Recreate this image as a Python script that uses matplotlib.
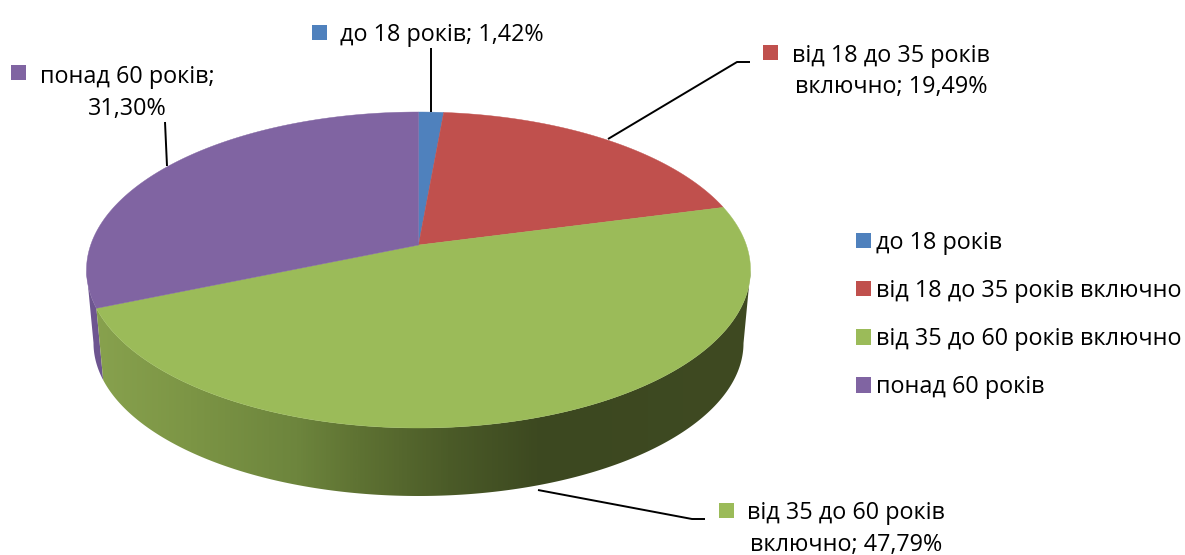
import numpy as np
import matplotlib
matplotlib.use('Agg')
import matplotlib.pyplot as plt
from matplotlib.patches import Patch, Polygon, Rectangle
from matplotlib.colors import LinearSegmentedColormap

categories = ['до 18 років', 'від 18 до 35 років включно',
              'від 35 до 60 років включно', 'понад 60 років']
shares = [1.42, 19.49, 47.79, 31.30]
colors = ['#4f81bd', '#c0504d', '#9bbb59', '#8064a2']

plt.rcParams['font.family'] = ['Open Sans', 'DejaVu Sans']
FS = 16.8

fig = plt.figure(figsize=(11.85, 5.55), dpi=100)
ax = fig.add_axes([0, 0, 1, 1])
ax.set_xlim(0, 1185)
ax.set_ylim(555, 0)
ax.axis('off')

# the tilted disc: circle seen in perspective, centre of the circle is above the centre of the ellipse
A = 0.158


def rim(f, cx, cy, rx, ry):
    t = 2 * np.pi * np.asarray(f)
    u, v = np.sin(t), np.cos(t)
    d = 1 + A * v
    x = cx + rx * u * np.sqrt(1 - A**2) / d
    y = cy - ry * (v + A) / d
    return np.column_stack([x, y])


def top(f):
    return rim(f, 418.5, 270, 332, 158)


def bottom(f):
    return rim(f, 418.5, 343, 325, 153)


edges = np.concatenate([[0], np.cumsum(shares)]) / np.sum(shares)

# side walls, only the green and the purple ones can be seen
side_map = LinearSegmentedColormap.from_list('side', [
    (0.0, '#88a24e'), (0.15, '#7c9545'), (0.31, '#6d853d'), (0.40, '#5f7333'),
    (0.54, '#4b5b28'), (0.68, '#3c4820'), (1.0, '#3f4a22')])
f = np.linspace(edges[2], edges[3], 800)
t, b = top(f), bottom(f)
i_t, i_b = t[:, 0].argmax(), b[:, 0].argmax()
wall = Polygon(np.vstack([t[i_t:], b[i_b:][::-1]]), closed=True, facecolor='none', edgecolor='none')
ax.add_patch(wall)
im = ax.imshow(np.linspace(0, 1, 650)[None, :], cmap=side_map, vmin=0, vmax=1, aspect='auto',
               extent=[90, 755, 555, 0], zorder=2, interpolation='bilinear')
im.set_clip_path(wall)
ax.set_xlim(0, 1185)
ax.set_ylim(555, 0)

f = np.linspace(edges[3], 0.78, 60)
t, b = top(f), bottom(f)
i_t, i_b = t[:, 0].argmin(), b[:, 0].argmin()
ax.add_patch(Polygon(np.vstack([t[:i_t + 1], b[:i_b + 1][::-1]]), closed=True,
                     facecolor='#6d5590', edgecolor='none', zorder=1))

# top face
apex = rim([0.25], 418.5, 270, 0, 158)[0]
for i, c in enumerate(colors):
    f = np.linspace(edges[i], edges[i + 1], 200)
    pts = np.vstack([apex, top(f)])
    ax.add_patch(Polygon(pts, closed=True, facecolor=c, edgecolor=c, linewidth=0.3, zorder=3))

# leader lines
leaders = [([431, 431], [48, 112]),
           ([608, 737, 750], [139, 62, 62]),
           ([538, 692, 705], [490, 519, 519]),
           ([165, 167], [122, 166])]
for lx, ly in leaders:
    ax.plot(lx, ly, color='black', lw=1.4, zorder=4, solid_capstyle='butt')


def pct(v):
    return ('%.2f' % v).replace('.', ',') + '%'


def square(x, y, c):
    ax.add_patch(Rectangle((x, y), 15, 15, facecolor=c, edgecolor='none', zorder=5))


def label(x, y, s, ha='left'):
    ax.text(x, y, s, fontsize=FS, ha=ha, va='center', color='black', zorder=5)


square(312, 25, colors[0])
label(340, 35, categories[0] + '; ' + pct(shares[0]))
square(763, 45, colors[1])
label(792, 56, 'від 18 до 35 років')
label(891, 87, 'включно; ' + pct(shares[1]), ha='center')
square(719, 503, colors[2])
label(747, 513, 'від 35 до 60 років')
label(846, 545, 'включно; ' + pct(shares[2]), ha='center')
square(11, 65, colors[3])
label(40, 77, categories[3] + ';')
label(127, 109, pct(shares[3]), ha='center')

handles = [Patch(facecolor=c, edgecolor='none') for c in colors]
ax.legend(handles, categories, loc='center left', bbox_to_anchor=(856 / 1185, 1 - 315 / 555),
          frameon=False, fontsize=FS, handlelength=0.64, handleheight=0.64,
          handletextpad=0.2, labelspacing=1.04, borderpad=0, borderaxespad=0)

fig.savefig('out.png', dpi=100)
